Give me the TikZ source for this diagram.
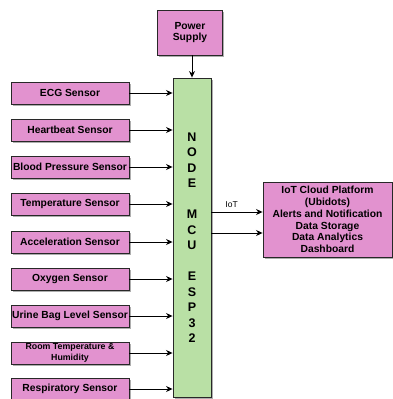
\documentclass[tikz,border=0pt]{standalone}
\usepackage{fontspec}
\setmainfont{Liberation Sans}
\usetikzlibrary{arrows.meta,shadows}
\definecolor{pinkfill}{RGB}{226,146,207}
\definecolor{greenfill}{RGB}{185,224,165}
\definecolor{edge}{RGB}{40,40,40}
\tikzset{
  box/.style={draw=edge, line width=0.9pt, inner sep=1pt, align=center,
    drop shadow={shadow xshift=1.6pt, shadow yshift=-1.6pt, opacity=0.45, fill=black!70}},
  sensor/.style={box, fill=pinkfill, minimum width=118pt, minimum height=22pt,
    font=\bfseries\fontsize{10.3}{11.8}\selectfont},
  conn/.style={draw=black, line width=0.9pt, -{Stealth[length=6.5pt,width=6pt]}}
}
\begin{document}
\begin{tikzpicture}[x=1pt,y=-1pt]
\useasboundingbox (0,0) rectangle (393,399);
\fill[white] (0,0) rectangle (393,399);
\begin{scope}
\clip (0,0) rectangle (393,399);
\node[box, fill=pinkfill, minimum width=65pt, minimum height=45pt,
  font=\bfseries\fontsize{10.3}{11.8}\selectfont] (power) at (190,32.5) {Power\\Supply};
\node[box, fill=greenfill, minimum width=38pt, minimum height=319pt,
  font=\bfseries\fontsize{12.5}{15.5}\selectfont] (mcu) at (192,237.5)
  {N\\O\\D\\E\\~\\M\\C\\U\\~\\E\\S\\P\\3\\2};
\node[sensor] (s1) at (70,93) {ECG Sensor};
\node[sensor] (s2) at (70,130) {Heartbeat Sensor};
\node[sensor] (s3) at (70,167) {Blood Pressure Sensor};
\node[sensor] (s4) at (70,204) {Temperature Sensor};
\node[sensor] (s5) at (70,242) {Acceleration Sensor};
\node[sensor] (s6) at (70,279) {Oxygen Sensor};
\node[sensor] (s7) at (70,316) {Urine Bag Level Sensor};
\node[sensor, font=\bfseries\fontsize{8.8}{11}\selectfont] (s8) at (70,353) {Room Temperature \&\\Humidity};
\node[sensor] (s9) at (70,389) {Respiratory Sensor};
\node[box, fill=pinkfill, minimum width=129pt, minimum height=75pt,
  font=\bfseries\fontsize{10.3}{11.8}\selectfont] (cloud) at (327.5,219.5)
  {IoT Cloud Platform\\(Ubidots)\\Alerts and Notification\\Data Storage\\Data Analytics\\Dashboard};
\end{scope}
\draw[conn] (power.south -| mcu.north) -- (mcu.north);
\foreach \i in {1,...,9}{
  \draw[conn] (s\i.east) -- (s\i.east -| mcu.west);
}
\coordinate (a1) at (211,212);
\coordinate (a2) at (211,233);
\draw[conn] (a1) -- (a1 -| cloud.west) node[pos=0.4, above=1pt, font=\fontsize{8.5}{10}\selectfont] {IoT};
\draw[conn] (a2) -- (a2 -| cloud.west);
\end{tikzpicture}
\end{document}
